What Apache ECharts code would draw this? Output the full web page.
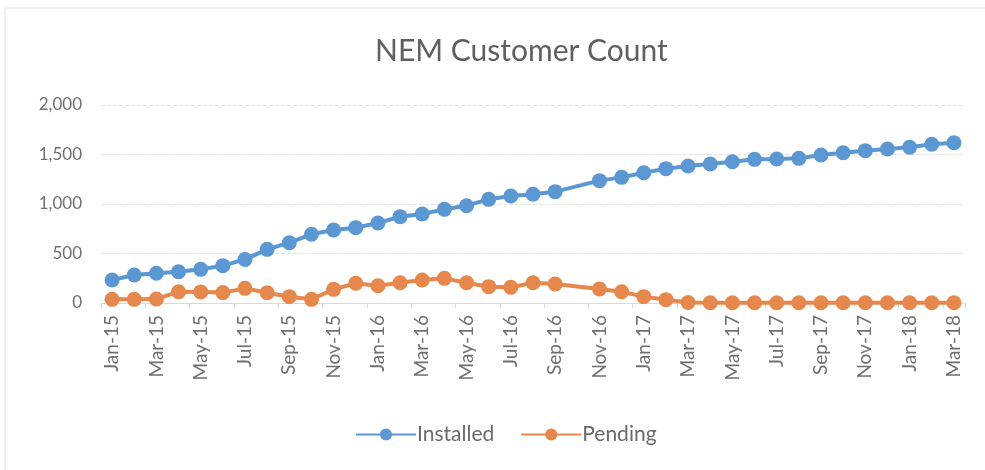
<!DOCTYPE html>
<html>
<head>
<meta charset="utf-8">
<script src="https://cdn.jsdelivr.net/npm/echarts@6/dist/echarts.min.js"></script>
<style>
  html, body { margin: 0; padding: 0; background: #fff; }
  #MyChart { width: 985px; height: 470px; }
</style>
</head>
<body>
<div id="MyChart"></div>
<script>
// months shown on the axis (Oct-16 has no data point)
var months = ['Jan-15', 'Feb-15', 'Mar-15', 'Apr-15', 'May-15', 'Jun-15', 'Jul-15', 'Aug-15', 'Sep-15', 'Oct-15', 'Nov-15', 'Dec-15',
    'Jan-16', 'Feb-16', 'Mar-16', 'Apr-16', 'May-16', 'Jun-16', 'Jul-16', 'Aug-16', 'Sep-16', 'Oct-16', 'Nov-16', 'Dec-16',
    'Jan-17', 'Feb-17', 'Mar-17', 'Apr-17', 'May-17', 'Jun-17', 'Jul-17', 'Aug-17', 'Sep-17', 'Oct-17', 'Nov-17', 'Dec-17',
    'Jan-18', 'Feb-18', 'Mar-18'];

var installed = [232, 283, 300, 316, 340, 377, 440, 542, 609, 694, 737, 761,
    808, 872, 899, 946, 983, 1047, 1081, 1098, 1125, null, 1236, 1269,
    1316, 1357, 1384, 1404, 1427, 1451, 1455, 1461, 1495, 1518, 1539, 1556,
    1573, 1603, 1619];

var pending = [37, 37, 40, 114, 112, 105, 148, 104, 64, 37, 138, 199,
    174, 205, 232, 249, 205, 165, 158, 205, 192, null, 141, 114,
    64, 34, 5, 3, 3, 2, 2, 2, 2, 2, 2, 2,
    2, 2, 2];

var yTicks = { min: 0, max: 2000, interval: 500 };

var myChart = echarts.init(document.getElementById('MyChart'));
var fontName = 'Lato, "Open Sans", sans-serif';
var option = {
    textStyle: { fontFamily: fontName },
    title: {
        text: 'NEM Customer Count',
        left: 370,
        top: 31,
        textStyle: { fontSize: 30, fontWeight: 'normal', color: '#606060', fontFamily: fontName }
    },
    graphic: [{
        type: 'rect',
        shape: { x: 5, y: 8, width: 990, height: 480 },
        style: { fill: 'none', stroke: '#e2e2e2', lineWidth: 1 }
    }],
    legend: {
        bottom: 20,
        left: 350,
        itemWidth: 60,
        itemHeight: 15,
        itemGap: 26,
        textStyle: { fontSize: 21, color: '#6a6a6a', fontFamily: fontName, padding: [0, 0, 0, -4] },
        data: ['Installed', 'Pending']
    },
    grid: { left: 101, right: 20, top: 105, bottom: 167 },
    xAxis: {
        type: 'category',
        data: months,
        boundaryGap: true,
        axisLine: { lineStyle: { color: '#d9d9d9' } },
        axisTick: { show: true, interval: 1, lineStyle: { color: '#d9d9d9' } },
        axisLabel: { interval: 1, rotate: 90, fontSize: 19, color: '#707070', margin: 12 }
    },
    yAxis: {
        type: 'value',
        min: yTicks.min,
        max: yTicks.max,
        interval: yTicks.interval,
        axisLine: { show: false },
        axisTick: { show: false },
        splitLine: { lineStyle: { color: '#e4e4e4', type: 'dashed' } },
        axisLabel: {
            fontSize: 17, color: '#707070', margin: 19,
            formatter: function (v) { return v.toLocaleString('en-US'); }
        }
    },
    series: [
        {
            name: 'Installed',
            type: 'line',
            data: installed,
            connectNulls: true,
            showAllSymbol: true,
            symbol: 'circle',
            symbolSize: 15,
            lineStyle: { width: 4, color: '#5b97d2' },
            itemStyle: { color: '#5b97d2' }
        },
        {
            name: 'Pending',
            type: 'line',
            data: pending,
            connectNulls: true,
            showAllSymbol: true,
            symbol: 'circle',
            symbolSize: 15,
            lineStyle: { width: 4, color: '#e6874c' },
            itemStyle: { color: '#e6874c' }
        }
    ]
};
myChart.setOption(option);
</script>
</body>
</html>
